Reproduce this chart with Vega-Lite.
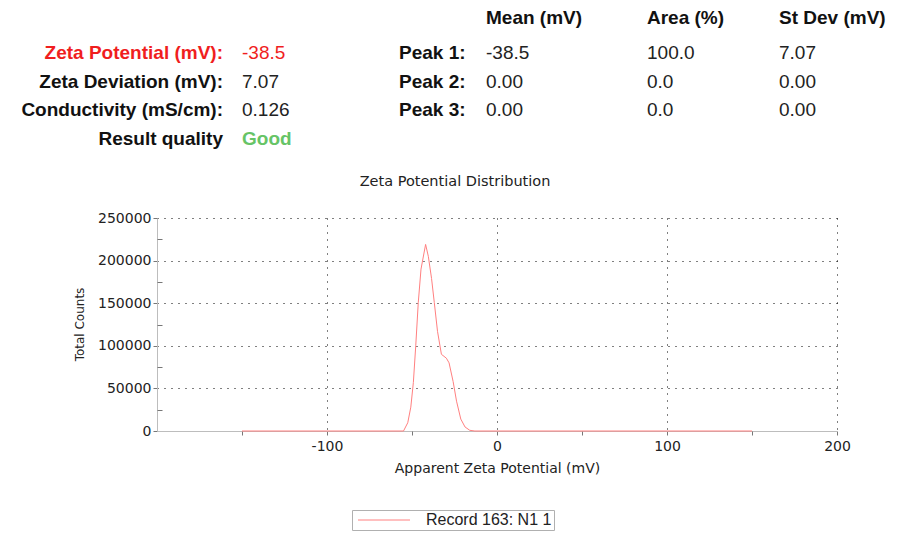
{
  "$schema": "https://vega.github.io/schema/vega-lite/v6.json",
  "width": 680,
  "height": 213,
  "autosize": {"type": "none"},
  "padding": {"left": 157, "top": 218, "right": 65, "bottom": 105},
  "background": "white",
  "config": {"view": {"stroke": null}, "font": "DejaVu Sans"},
  "title": {
    "text": "Zeta Potential Distribution",
    "anchor": "middle",
    "frame": "group",
    "dx": -42,
    "dy": 187,
    "offset": 0,
    "baseline": "middle",
    "fontSize": 14.5,
    "fontWeight": "normal",
    "font": "DejaVu Sans",
    "color": "#222"
  },
  "datasets": {
    "curve": [
      {"potential": -150, "counts": 0, "series": "Record 163: N1 1"},
      {"potential": -55, "counts": 0, "series": "Record 163: N1 1"},
      {"potential": -52.5, "counts": 9700, "series": "Record 163: N1 1"},
      {"potential": -50.7, "counts": 28000, "series": "Record 163: N1 1"},
      {"potential": -49.2, "counts": 57000, "series": "Record 163: N1 1"},
      {"potential": -47.8, "counts": 100000, "series": "Record 163: N1 1"},
      {"potential": -46.3, "counts": 151000, "series": "Record 163: N1 1"},
      {"potential": -44.7, "counts": 190000, "series": "Record 163: N1 1"},
      {"potential": -42.0, "counts": 219000, "series": "Record 163: N1 1"},
      {"potential": -40.4, "counts": 205000, "series": "Record 163: N1 1"},
      {"potential": -38.5, "counts": 179000, "series": "Record 163: N1 1"},
      {"potential": -36.9, "counts": 151000, "series": "Record 163: N1 1"},
      {"potential": -35.0, "counts": 117000, "series": "Record 163: N1 1"},
      {"potential": -32.7, "counts": 90000, "series": "Record 163: N1 1"},
      {"potential": -29.8, "counts": 85500, "series": "Record 163: N1 1"},
      {"potential": -28.2, "counts": 80000, "series": "Record 163: N1 1"},
      {"potential": -25.8, "counts": 58000, "series": "Record 163: N1 1"},
      {"potential": -23.8, "counts": 35000, "series": "Record 163: N1 1"},
      {"potential": -21.3, "counts": 14000, "series": "Record 163: N1 1"},
      {"potential": -18.8, "counts": 4700, "series": "Record 163: N1 1"},
      {"potential": -16.0, "counts": 800, "series": "Record 163: N1 1"},
      {"potential": -13.0, "counts": 0, "series": "Record 163: N1 1"},
      {"potential": 150, "counts": 0, "series": "Record 163: N1 1"}
    ],
    "summary": [
      {"row": "r0", "mean": "Mean (mV)", "area": "Area (%)", "sd": "St Dev (mV)"},
      {"row": "r1", "label": "Zeta Potential (mV):", "value": "-38.5", "peak": "Peak 1:", "mean": "-38.5", "area": "100.0", "sd": "7.07"},
      {"row": "r2", "label": "Zeta Deviation (mV):", "value": "7.07", "peak": "Peak 2:", "mean": "0.00", "area": "0.0", "sd": "0.00"},
      {"row": "r3", "label": "Conductivity (mS/cm):", "value": "0.126", "peak": "Peak 3:", "mean": "0.00", "area": "0.0", "sd": "0.00"},
      {"row": "r4", "label": "Result quality", "value": "Good"}
    ]
  },
  "layer": [
    {
      "data": {"name": "curve"},
      "mark": {"type": "line", "strokeWidth": 1},
      "encoding": {
        "x": {
          "field": "potential",
          "type": "quantitative",
          "scale": {"domain": [-200, 200], "nice": false, "zero": false},
          "axis": {
            "orient": "bottom",
            "values": [-100, 0, 100, 200],
            "labelExpr": "'' + datum.value",
            "labelFlush": false,
            "title": "Apparent Zeta Potential (mV)",
            "grid": true,
            "gridColor": "#000",
            "gridDash": [1, 6],
            "gridWidth": 1,
            "domainColor": "#bdbdbd",
            "tickColor": "#777",
            "tickSize": 4,
            "labelFont": "DejaVu Sans",
            "labelFontSize": 14,
            "labelColor": "#222",
            "labelPadding": 4,
            "titleFont": "DejaVu Sans",
            "titleFontSize": 14,
            "titleFontWeight": "normal",
            "titleColor": "#222",
            "titleX": 340,
            "titleY": 37,
            "titleBaseline": "middle"
          }
        },
        "y": {
          "field": "counts",
          "type": "quantitative",
          "scale": {"domain": [0, 250000], "nice": false},
          "axis": {
            "orient": "left",
            "values": [0, 50000, 100000, 150000, 200000, 250000],
            "format": "d",
            "title": "Total Counts",
            "grid": true,
            "gridColor": "#000",
            "gridDash": [1, 6],
            "gridWidth": 1,
            "gridOpacity": {"condition": {"test": "datum.value === 0", "value": 0}, "value": 1},
            "domainColor": "#bdbdbd",
            "tickColor": "#777",
            "tickSize": 4,
            "labelFont": "DejaVu Sans",
            "labelFontSize": 14,
            "labelColor": "#222",
            "labelPadding": 2,
            "titleFont": "DejaVu Sans",
            "titleFontSize": 12,
            "titleFontWeight": "normal",
            "titleColor": "#222",
            "titleX": -78,
            "titleY": 106,
            "titleAngle": -90,
            "titleAlign": "center",
            "titleBaseline": "middle"
          }
        },
        "color": {
          "field": "series",
          "type": "nominal",
          "scale": {"range": ["#ff8080"]},
          "legend": {
            "orient": "none",
            "legendX": 195,
            "legendY": 292,
            "title": null,
            "strokeColor": "#b0b0b0",
            "padding": 2,
            "symbolType": "M-1,0H9.4",
            "symbolSize": 100,
            "symbolOffset": 1,
            "symbolStrokeWidth": 1,
            "symbolFillColor": "transparent",
            "labelFont": "Liberation Sans",
            "labelFontSize": 16,
            "labelColor": "#222",
            "labelOffset": 55
          }
        }
      }
    },
    {
      "data": {"name": "curve"},
      "mark": {"type": "line", "strokeOpacity": 0},
      "encoding": {
        "x": {
          "field": "potential",
          "type": "quantitative",
          "scale": {"domain": [-200, 200], "nice": false, "zero": false},
          "axis": {"orient": "bottom", "values": [-150, -50, 50, 150], "labels": false, "grid": false, "domain": false, "tickSize": 4, "tickColor": "#777", "title": null}
        },
        "y": {
          "field": "counts",
          "type": "quantitative",
          "scale": {"domain": [0, 250000], "nice": false},
          "axis": {"orient": "left", "values": [25000, 75000, 125000, 175000, 225000], "labels": false, "grid": false, "domain": false, "tickSize": -5, "tickColor": "#777", "title": null}
        }
      }
    },
    {
      "data": {"name": "summary"},
      "encoding": {
        "y": {
          "field": "row",
          "type": "nominal",
          "scale": {"type": "point", "domain": ["r0", "r1", "r2", "r3", "r4"], "range": [-194, -79], "padding": 0},
          "axis": null
        }
      },
      "layer": [
        {
          "transform": [{"filter": "isValid(datum.label)"}],
          "mark": {"type": "text", "align": "right", "baseline": "middle", "font": "Liberation Sans", "fontSize": 19, "fontWeight": "bold"},
          "encoding": {
            "x": {"value": 66},
            "text": {"field": "label"},
            "color": {"condition": {"test": "datum.row === 'r1'", "value": "#f01e1e"}, "value": "#111"}
          }
        },
        {
          "transform": [{"filter": "isValid(datum.value) && datum.row !== 'r4'"}],
          "mark": {"type": "text", "align": "left", "baseline": "middle", "font": "Liberation Sans", "fontSize": 19},
          "encoding": {
            "x": {"value": 85},
            "text": {"field": "value"},
            "color": {"condition": {"test": "datum.row === 'r1'", "value": "#f01e1e"}, "value": "#222"}
          }
        },
        {
          "transform": [{"filter": "datum.row === 'r4'"}],
          "mark": {"type": "text", "align": "left", "baseline": "middle", "font": "Liberation Sans", "fontSize": 19, "fontWeight": "bold", "color": "#66c466"},
          "encoding": {"x": {"value": 85}, "text": {"field": "value"}}
        },
        {
          "transform": [{"filter": "isValid(datum.peak)"}],
          "mark": {"type": "text", "align": "left", "baseline": "middle", "font": "Liberation Sans", "fontSize": 19, "fontWeight": "bold", "color": "#111"},
          "encoding": {"x": {"value": 242}, "text": {"field": "peak"}}
        },
        {
          "transform": [{"filter": "datum.row === 'r0'"}],
          "mark": {"type": "text", "align": "left", "baseline": "middle", "dy": -6, "font": "Liberation Sans", "fontSize": 19, "fontWeight": "bold", "color": "#111"},
          "encoding": {"x": {"value": 329}, "text": {"field": "mean"}}
        },
        {
          "transform": [{"filter": "datum.row !== 'r0' && isValid(datum.mean)"}],
          "mark": {"type": "text", "align": "left", "baseline": "middle", "font": "Liberation Sans", "fontSize": 19, "color": "#222"},
          "encoding": {"x": {"value": 329}, "text": {"field": "mean"}}
        },
        {
          "transform": [{"filter": "datum.row === 'r0'"}],
          "mark": {"type": "text", "align": "left", "baseline": "middle", "dy": -6, "font": "Liberation Sans", "fontSize": 19, "fontWeight": "bold", "color": "#111"},
          "encoding": {"x": {"value": 490}, "text": {"field": "area"}}
        },
        {
          "transform": [{"filter": "datum.row !== 'r0' && isValid(datum.area)"}],
          "mark": {"type": "text", "align": "left", "baseline": "middle", "font": "Liberation Sans", "fontSize": 19, "color": "#222"},
          "encoding": {"x": {"value": 490}, "text": {"field": "area"}}
        },
        {
          "transform": [{"filter": "datum.row === 'r0'"}],
          "mark": {"type": "text", "align": "left", "baseline": "middle", "dy": -6, "font": "Liberation Sans", "fontSize": 19, "fontWeight": "bold", "color": "#111"},
          "encoding": {"x": {"value": 622}, "text": {"field": "sd"}}
        },
        {
          "transform": [{"filter": "datum.row !== 'r0' && isValid(datum.sd)"}],
          "mark": {"type": "text", "align": "left", "baseline": "middle", "font": "Liberation Sans", "fontSize": 19, "color": "#222"},
          "encoding": {"x": {"value": 622}, "text": {"field": "sd"}}
        }
      ]
    }
  ],
  "resolve": {
    "scale": {"x": "independent", "y": "independent"},
    "axis": {"x": "independent", "y": "independent"}
  }
}
